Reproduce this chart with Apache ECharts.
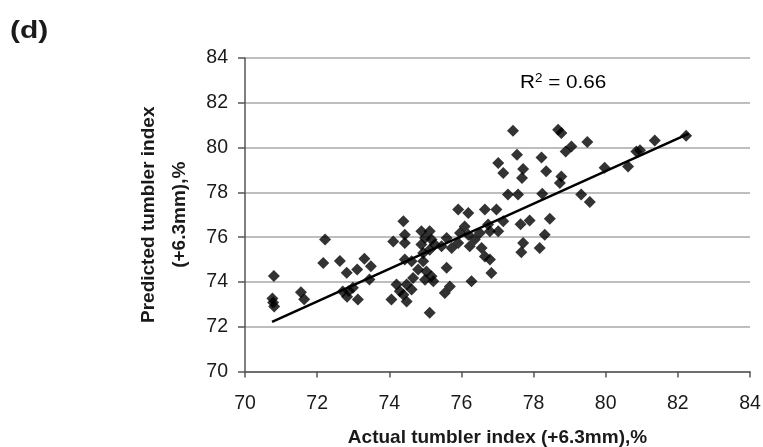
<!DOCTYPE html>
<html>
<head>
<meta charset="utf-8">
<script src="https://cdn.jsdelivr.net/npm/echarts@6/dist/echarts.min.js"></script>
<style>
  html, body { margin: 0; padding: 0; background: #fff; }
  #chart { width: 763px; height: 447px; }
</style>
</head>
<body>
<div id="chart"></div>
<script>
// Actual vs. predicted tumbler index (+6.3 mm), %
const actualIndex = [
  70.80, 70.76, 70.78, 70.81, 71.55, 71.64,
  72.22, 72.17, 72.63, 72.82, 73.11, 73.31, 73.49, 73.45,
  72.71, 72.83, 72.99, 73.13, 72.88,
  74.39, 74.11, 74.43, 74.43, 74.89, 75.12, 74.99, 75.17, 74.89, 75.12,
  74.94, 75.26, 74.43, 74.62, 74.94, 74.80, 75.03, 75.17, 74.99, 75.22,
  74.66, 74.48, 74.20, 74.29, 74.62, 74.06, 74.48, 74.39, 75.12, 75.59,
  75.68, 75.54, 75.45, 75.59, 75.73, 75.91, 75.96, 75.91, 76.19, 76.09,
  76.19, 76.37, 76.23, 76.51, 76.65, 76.97, 76.74, 76.56, 76.65, 76.79,
  76.83, 76.28, 76.79, 77.02, 77.16,
  77.43, 78.68, 78.77, 79.49, 79.05, 78.89, 77.54, 77.02, 78.22, 77.16,
  77.71, 77.68, 78.35, 78.77, 78.73, 79.97, 77.29, 77.57, 78.24, 79.32,
  79.56, 77.64, 77.89, 78.45, 78.31, 77.71, 78.17, 77.66,
  80.62, 80.85, 80.95, 81.36, 82.23
];
const predictedIndex = [
  74.27, 73.26, 73.08, 72.90, 73.54, 73.23,
  75.89, 74.85, 74.93, 74.41, 74.55, 75.03, 74.70, 74.11,
  73.57, 73.34, 73.74, 73.21, 73.60,
  76.71, 75.81, 76.11, 75.74, 76.26, 76.26, 75.96, 75.89, 75.67, 75.44,
  75.29, 75.67, 75.00, 74.92, 74.92, 74.55, 74.47, 74.25, 74.10, 74.03,
  74.18, 73.88, 73.88, 73.58, 73.66, 73.21, 73.13, 73.43, 72.62, 74.63,
  73.80, 73.51, 75.59, 75.96, 75.52, 75.74, 76.19, 77.23, 77.08, 76.48,
  76.11, 75.89, 75.59, 76.19, 77.23, 77.23, 76.56, 75.52, 75.14, 75.00,
  74.40, 74.03, 76.26, 76.26, 76.71,
  80.75, 80.80, 80.65, 80.25, 80.05, 79.83, 79.68, 79.31, 79.56, 78.87,
  79.04, 78.64, 78.94, 78.71, 78.42, 79.10, 77.90, 77.90, 77.94, 77.90,
  77.57, 76.58, 76.74, 76.82, 76.11, 75.74, 75.52, 75.32,
  79.16, 79.83, 79.88, 80.32, 80.53
];
// Fitted regression line end points
const trendActual = [70.75, 82.30];
const trendPredicted = [72.22, 80.62];
const axisTicks = [70, 72, 74, 76, 78, 80, 82, 84];
const rSquared = '0.66';

const points = actualIndex.map((x, i) => [x, predictedIndex[i]]);
const trendLine = trendActual.map((x, i) => [x, trendPredicted[i]]);

const chart = echarts.init(document.getElementById('chart'), null, { renderer: 'canvas' });
const font = '"Liberation Sans", Arial, sans-serif';
const textColor = '#1a1a1a';

chart.setOption({
  animation: false,
  backgroundColor: '#ffffff',
  textStyle: { fontFamily: font },
  graphic: [
    {
      type: 'text', x: 10, y: 19, scaleX: 1.25,
      style: { text: '(d)', font: 'bold 24px ' + font, fill: textColor }
    },
    {
      type: 'text', x: 520, y: 73, scaleX: 1.12,
      style: {
        text: '{r|R}{s|2}{r| = ' + rSquared + '}',
        rich: {
          r: { fontSize: 18.5, fontFamily: font, color: textColor },
          s: { fontSize: 12, fontFamily: font, color: textColor, verticalAlign: 'top', padding: [0, 0, 8, 0] }
        }
      }
    }
  ],
  grid: { left: 245, right: 13, top: 58, bottom: 75.5, containLabel: false, outerBoundsMode: 'none' },
  xAxis: {
    type: 'value', min: axisTicks[0], max: axisTicks[axisTicks.length - 1], interval: 2,
    name: 'Actual tumbler index (+6.3mm),%',
    nameLocation: 'middle', nameGap: 57,
    nameTextStyle: { fontFamily: font, fontWeight: 'bold', fontSize: 19, color: textColor },
    axisLine: { onZero: false, lineStyle: { color: '#555', width: 1.5 } },
    axisTick: { show: true, length: 6, lineStyle: { color: '#555', width: 1.5 } },
    axisLabel: { fontFamily: font, fontSize: 19.5, color: textColor, margin: 22 },
    splitLine: { show: false }
  },
  yAxis: {
    type: 'value', min: axisTicks[0], max: axisTicks[axisTicks.length - 1], interval: 2,
    name: 'Predicted tumbler index\n(+6.3mm),%',
    nameLocation: 'middle', nameGap: 50,
    nameTextStyle: { fontFamily: font, fontWeight: 'bold', fontSize: 19, color: textColor, lineHeight: 31 },
    axisLine: { onZero: false, lineStyle: { color: '#555', width: 1.5 } },
    axisTick: { show: true, length: 7, lineStyle: { color: '#555', width: 1.5 } },
    axisLabel: { fontFamily: font, fontSize: 19.5, color: textColor, margin: 17 },
    splitLine: { show: true, lineStyle: { color: '#a8a8a8', width: 1.5 } }
  },
  series: [
    {
      type: 'scatter',
      data: points,
      symbol: 'diamond',
      symbolSize: 12,
      itemStyle: { color: '#000' },
      z: 3
    },
    {
      type: 'line',
      data: trendLine,
      symbol: 'none',
      lineStyle: { color: '#000', width: 2.5 },
      z: 4
    }
  ]
});
</script>
</body>
</html>
